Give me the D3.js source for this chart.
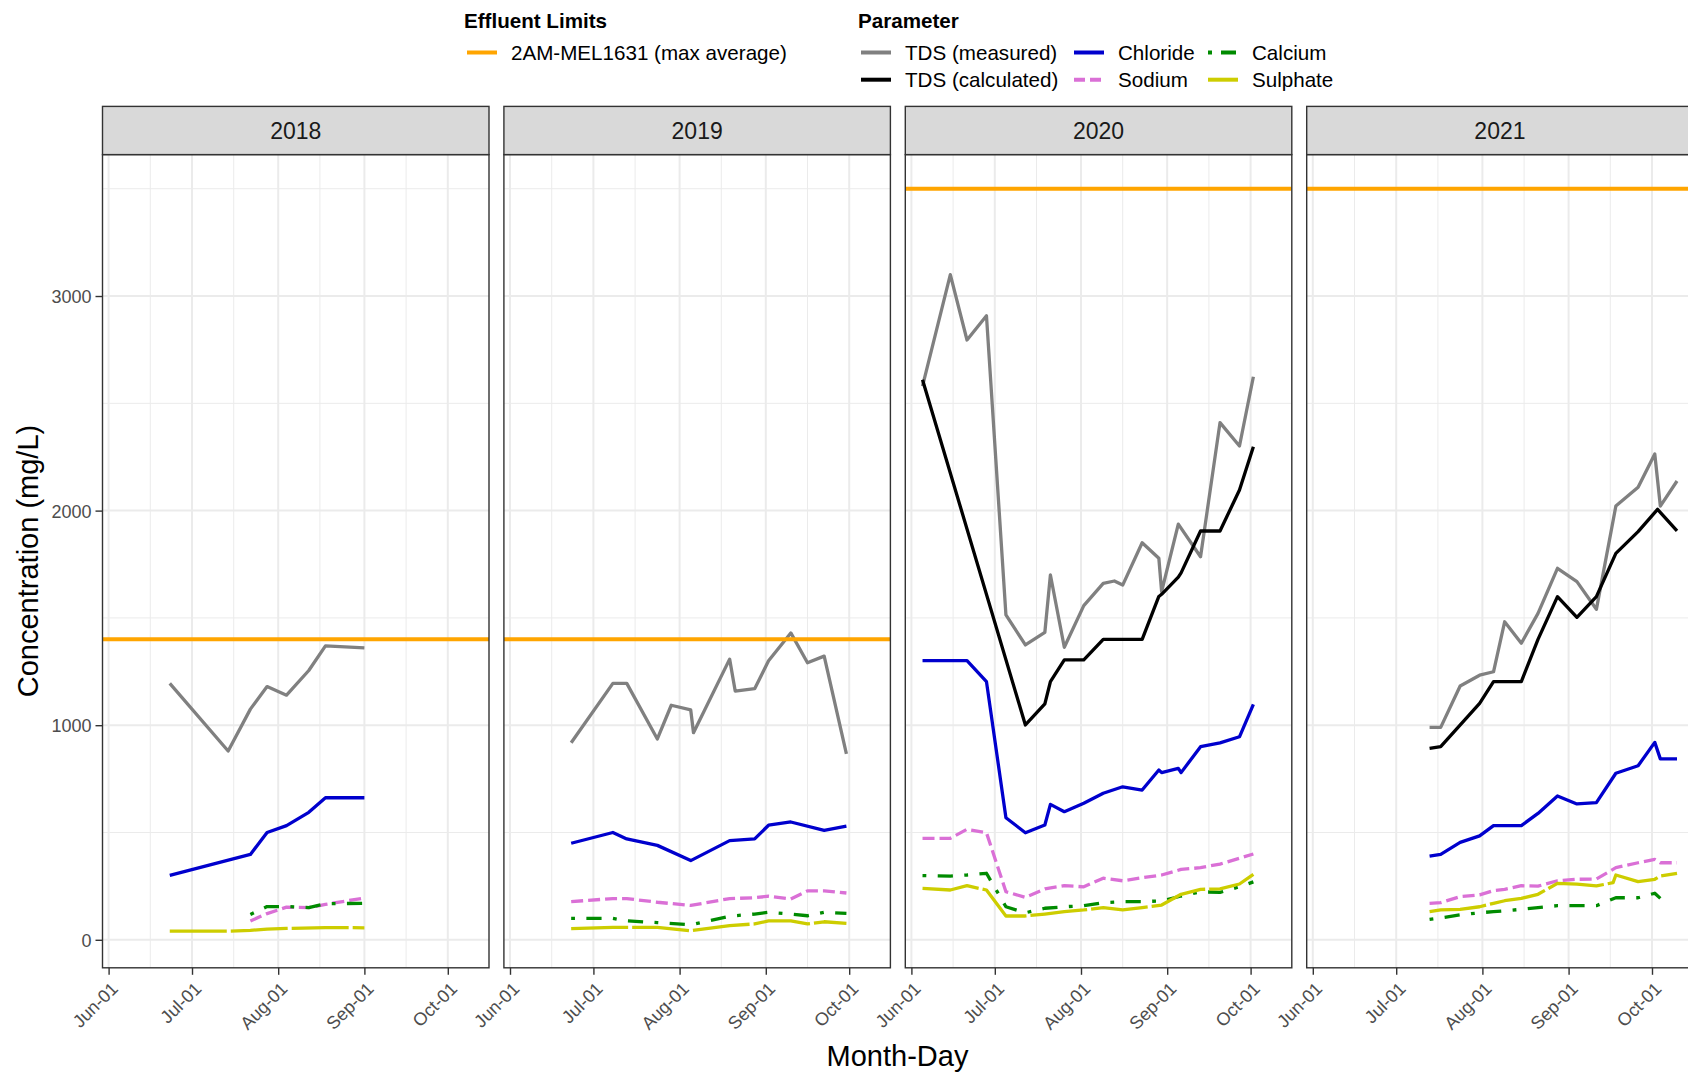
<!DOCTYPE html>
<html>
<head>
<meta charset="utf-8">
<script src="https://cdn.jsdelivr.net/npm/d3@7"></script>
<style>
  html, body { margin: 0; padding: 0; background: #ffffff; }
  svg { display: block; font-family: "Liberation Sans", Arial, sans-serif; }
</style>
</head>
<body>
<svg id="chart" width="1688" height="1072"></svg>
<script>
// ---- data -------------------------------------------------------------
const years = ["2018", "2019", "2020", "2021"];
const effluentLimit = [1400, 1400, 3500, 3500];          // mg/L, one per year
const limitLabel = "2AM-MEL1631 (max average)";
const parameters = ["TDS (measured)", "TDS (calculated)", "Chloride", "Sodium", "Calcium", "Sulphate"];
const monthTicks = ["06-01", "07-01", "08-01", "09-01", "10-01"];
const yTicks = [0, 1000, 2000, 3000];

const tdsMeasured = {
  2018: [["06-23",1195],["07-14",880],["07-22",1075],["07-28",1180],["08-04",1140],["08-12",1255],["08-18",1370],["09-01",1360]],
  2019: [["06-23",918],["07-08",1195],["07-13",1195],["07-24",936],["07-29",1093],["08-05",1071],["08-06",965],["08-19",1308],
         ["08-21",1159],["08-28",1170],["09-02",1300],["09-10",1430],["09-16",1291],["09-22",1322],["09-30",866]],
  2020: [["06-05",2580],["06-15",3100],["06-21",2795],["06-28",2908],["07-05",1514],["07-12",1374],["07-19",1433],["07-21",1700],
         ["07-26",1363],["08-02",1557],["08-09",1661],["08-13",1672],["08-16",1653],["08-23",1850],["08-29",1778],["08-30",1622],
         ["09-05",1937],["09-13",1785],["09-20",2410],["09-27",2301],["10-02",2624]],
  2021: [["07-13",990],["07-17",990],["07-24",1183],["07-31",1233],["08-05",1249],["08-09",1482],["08-15",1382],["08-21",1521],
         ["08-28",1731],["09-04",1669],["09-11",1540],["09-18",2021],["09-26",2109],["10-02",2264],["10-04",2021],["10-10",2138]]
};

const tdsCalculated = {
  2018: [],
  2019: [],
  2020: [["06-05",2610],["07-12",1001],["07-19",1099],["07-21",1203],["07-26",1304],["08-02",1304],["08-09",1400],["08-23",1400],
         ["08-29",1600],["08-30",1610],["09-05",1690],["09-06",1710],["09-13",1905],["09-20",1905],["09-27",2096],["10-02",2298]],
  2021: [["07-13",892],["07-17",900],["07-31",1102],["08-05",1203],["08-15",1203],["08-21",1400],["08-28",1599],["09-04",1503],
         ["09-11",1599],["09-18",1801],["09-26",1902],["10-03",2006],["10-10",1906]]
};

const chloride = {
  2018: [["06-23",300],["07-22",398],["07-28",500],["08-04",532],["08-12",594],["08-18",662],["09-01",662]],
  2019: [["06-23",450],["07-08",500],["07-13",470],["07-24",440],["08-05",369],["08-19",462],["08-28",470],["09-02",534],
         ["09-10",549],["09-22",510],["09-30",530]],
  2020: [["06-05",1301],["06-15",1301],["06-21",1301],["06-28",1203],["07-05",569],["07-12",499],["07-19",535],["07-21",631],
         ["07-26",597],["08-02",636],["08-09",683],["08-16",713],["08-23",698],["08-29",791],["08-30",779],["09-05",799],
         ["09-06",779],["09-13",900],["09-20",918],["09-27",946],["10-02",1097]],
  2021: [["07-13",390],["07-17",398],["07-24",454],["07-31",484],["08-05",532],["08-15",532],["08-21",589],["08-28",670],
         ["09-04",633],["09-11",639],["09-18",776],["09-26",811],["10-02",920],["10-04",843],["10-10",843]]
};

const sodium = {
  2018: [["07-22",88],["07-28",122],["08-04",152],["08-12",150],["08-18",165],["09-01",195]],
  2019: [["06-23",178],["07-08",192],["07-13",192],["07-24",175],["08-05",160],["08-19",192],["08-28",196],["09-02",203],
         ["09-10",190],["09-16",228],["09-22",228],["09-30",218]],
  2020: [["06-05",473],["06-15",473],["06-21",515],["06-28",499],["07-05",224],["07-12",198],["07-19",237],["07-26",252],
         ["08-02",247],["08-09",287],["08-16",275],["08-23",289],["08-30",302],["09-06",328],["09-13",336],["09-20",353],
         ["09-27",380],["10-02",400]],
  2021: [["07-13",170],["07-17",173],["07-24",201],["07-31",209],["08-05",229],["08-09",235],["08-15",252],["08-21",250],
         ["08-28",275],["09-04",282],["09-11",283],["09-18",336],["09-26",359],["10-02",375],["10-04",359],["10-10",359]]
};

const calcium = {
  2018: [["07-22",118],["07-28",155],["08-04",155],["08-12",150],["08-18",168],["09-01",170]],
  2019: [["06-23",100],["07-08",100],["07-13",88],["07-24",80],["08-05",70],["08-19",110],["08-28",120],["09-02",128],
         ["09-10",120],["09-16",112],["09-22",128],["09-30",123]],
  2020: [["06-05",299],["06-15",297],["06-21",302],["06-28",310],["07-05",154],["07-12",126],["07-19",147],["07-26",154],
         ["08-02",159],["08-09",173],["08-16",178],["08-23",178],["08-30",181],["09-06",204],["09-13",224],["09-20",221],
         ["09-27",247],["10-02",270]],
  2021: [["07-13",95],["07-17",102],["07-24",116],["07-31",126],["08-05",131],["08-15",142],["08-21",150],["08-28",159],
         ["09-04",159],["09-11",159],["09-18",196],["09-26",196],["10-02",217],["10-04",193]]
};

const sulphate = {
  2018: [["06-23",40],["07-14",40],["07-22",44],["07-28",50],["08-04",53],["08-18",57],["09-01",56]],
  2019: [["06-23",52],["07-08",58],["07-13",58],["07-24",58],["08-05",42],["08-19",66],["08-28",74],["09-02",88],
         ["09-10",88],["09-16",74],["09-22",84],["09-30",77]],
  2020: [["06-05",240],["06-15",232],["06-21",252],["06-28",232],["07-05",111],["07-12",111],["07-19",120],["07-26",131],
         ["08-02",139],["08-09",150],["08-16",139],["08-23",150],["08-30",162],["09-06",212],["09-13",235],["09-20",237],
         ["09-27",260],["10-02",305]],
  2021: [["07-13",131],["07-17",139],["07-24",142],["07-31",154],["08-05",170],["08-09",182],["08-15",193],["08-21",212],
         ["08-28",263],["09-04",259],["09-11",251],["09-17",266],["09-18",302],["09-26",271],["10-02",282],["10-04",297],["10-10",310]]
};

const seriesData = [tdsMeasured, tdsCalculated, chloride, sodium, calcium, sulphate];

// ---- styles -------------------------------------------------------------
const paramColor = ["#808080", "#000000", "#0000CD", "#DA70D6", "#008B00", "#CDCD00"];
const paramDash  = [null, null, null, "12,5", "3.8,11.4,15.2,11.4", "57,4"];
const limitColor = "#FFA500";

// ---- layout -------------------------------------------------------------
const svg = d3.select("#chart");
const panelLeft0 = 102.5, panelStep = 401.4, panelW = 386.5;
const stripTop = 106.4, panelTop = 154.6, panelBottom = 967.8;

const parseMD = s => { const [m, d] = s.split("-"); return new Date(Date.UTC(2000, +m - 1, +d)); };
const jun1 = parseMD("06-01");
const xDomain = [new Date(jun1.getTime() - 2.194 * 864e5), new Date(jun1.getTime() + 136.82 * 864e5)];
const minorTicks = ["05-16", "06-16", "07-16", "08-16", "09-16", "10-16"].map(parseMD);

const y = d3.scaleLinear().domain([-130.5, 3659]).range([panelBottom, panelTop]);
const yMinor = [500, 1500, 2500, 3500];

years.forEach((yr, i) => {
  const left = panelLeft0 + i * panelStep;
  const x = d3.scaleUtc().domain(xDomain).range([left, left + panelW]);
  const g = svg.append("g");

  const clipId = "clip" + yr;
  svg.append("clipPath").attr("id", clipId)
    .append("rect").attr("x", left).attr("y", panelTop).attr("width", panelW).attr("height", panelBottom - panelTop);

  // grid
  const grid = g.append("g").attr("clip-path", `url(#${clipId})`);
  grid.selectAll(".ymin").data(yMinor).join("line")
    .attr("x1", left).attr("x2", left + panelW).attr("y1", d => y(d)).attr("y2", d => y(d))
    .attr("stroke", "#EBEBEB").attr("stroke-width", 1);
  grid.selectAll(".xmin").data(minorTicks).join("line")
    .attr("x1", d => x(d)).attr("x2", d => x(d)).attr("y1", panelTop).attr("y2", panelBottom)
    .attr("stroke", "#EBEBEB").attr("stroke-width", 1);
  grid.selectAll(".ymaj").data(yTicks).join("line")
    .attr("x1", left).attr("x2", left + panelW).attr("y1", d => y(d)).attr("y2", d => y(d))
    .attr("stroke", "#EBEBEB").attr("stroke-width", 2);
  grid.selectAll(".xmaj").data(monthTicks.map(parseMD)).join("line")
    .attr("x1", d => x(d)).attr("x2", d => x(d)).attr("y1", panelTop).attr("y2", panelBottom)
    .attr("stroke", "#EBEBEB").attr("stroke-width", 2);

  // series lines
  const line = d3.line().x(d => x(parseMD(d[0]))).y(d => y(d[1]));
  const lines = g.append("g").attr("clip-path", `url(#${clipId})`);
  seriesData.forEach((s, k) => {
    const pts = s[yr] || [];
    if (pts.length < 2) return;
    lines.append("path").datum(pts).attr("d", line)
      .attr("fill", "none").attr("stroke", paramColor[k]).attr("stroke-width", 3.3)
      .attr("stroke-linejoin", "round").attr("stroke-linecap", "butt")
      .attr("stroke-dasharray", paramDash[k]);
  });

  // effluent limit
  lines.append("line")
    .attr("x1", left).attr("x2", left + panelW)
    .attr("y1", y(effluentLimit[i])).attr("y2", y(effluentLimit[i]))
    .attr("stroke", limitColor).attr("stroke-width", 4);

  // panel border
  g.append("rect").attr("x", left).attr("y", panelTop).attr("width", panelW).attr("height", panelBottom - panelTop)
    .attr("fill", "none").attr("stroke", "#333333").attr("stroke-width", 1.4);

  // strip
  g.append("rect").attr("x", left).attr("y", stripTop).attr("width", panelW).attr("height", panelTop - stripTop)
    .attr("fill", "#D9D9D9").attr("stroke", "#333333").attr("stroke-width", 1.4);
  g.append("text").attr("x", left + panelW / 2).attr("y", (stripTop + panelTop) / 2 + 8.2)
    .attr("text-anchor", "middle").attr("font-size", 23).attr("fill", "#1A1A1A").text(yr);

  // x axis
  const xAxis = g.append("g").attr("transform", `translate(0,${panelBottom})`)
    .call(d3.axisBottom(x).tickValues(monthTicks.map(parseMD)).tickFormat(d3.utcFormat("%b-%d")).tickSize(7).tickSizeOuter(0));
  xAxis.select(".domain").remove();
  xAxis.selectAll(".tick line").attr("stroke", "#333333").attr("stroke-width", 1.4);
  xAxis.selectAll(".tick text")
    .attr("y", null).attr("dy", null)
    .attr("font-size", 18).attr("fill", "#4D4D4D").attr("font-family", null)
    .attr("text-anchor", "end")
    .attr("transform", "translate(10,22) rotate(-45)");

  // y axis on first panel only
  if (i === 0) {
    const yAxis = g.append("g").attr("transform", `translate(${left},0)`)
      .call(d3.axisLeft(y).tickValues(yTicks).tickFormat(d3.format("d")).tickSize(7).tickSizeOuter(0));
    yAxis.select(".domain").remove();
    yAxis.selectAll(".tick line").attr("stroke", "#333333").attr("stroke-width", 1.4);
    yAxis.selectAll(".tick text").attr("x", -11).attr("dy", "0.36em")
      .attr("font-size", 18).attr("fill", "#4D4D4D").attr("font-family", null);
  }
});

// axis titles
svg.append("text").attr("x", 897.5).attr("y", 1066).attr("text-anchor", "middle")
  .attr("font-size", 29).attr("fill", "#000").text("Month-Day");
svg.append("text").attr("transform", "translate(37.5,561) rotate(-90)").attr("text-anchor", "middle")
  .attr("font-size", 29).attr("fill", "#000").text("Concentration (mg/L)");

// ---- legends ------------------------------------------------------------
const legendFont = 20.6;
const lg = svg.append("g");
lg.append("text").attr("x", 464).attr("y", 27.5).attr("font-size", legendFont).attr("font-weight", "bold").text("Effluent Limits");
lg.append("line").attr("x1", 467).attr("x2", 497).attr("y1", 52.5).attr("y2", 52.5)
  .attr("stroke", limitColor).attr("stroke-width", 4);
lg.append("text").attr("x", 511).attr("y", 60).attr("font-size", legendFont).text(limitLabel);

lg.append("text").attr("x", 858).attr("y", 27.5).attr("font-size", legendFont).attr("font-weight", "bold").text("Parameter");
const colX = [861, 1074, 1208];
const rowY = [52.5, 79.7];
parameters.forEach((p, k) => {
  const col = Math.floor(k / 2), row = k % 2;
  const kx = colX[col], ky = rowY[row];
  lg.append("line").attr("x1", kx).attr("x2", kx + 30).attr("y1", ky).attr("y2", ky)
    .attr("stroke", paramColor[k]).attr("stroke-width", 4)
    .attr("stroke-dasharray", k === 3 ? "11,5" : k === 4 ? "4,9,15,9" : null);
  lg.append("text").attr("x", kx + 44).attr("y", ky + 7.4).attr("font-size", legendFont).text(p);
});
</script>
</body>
</html>
